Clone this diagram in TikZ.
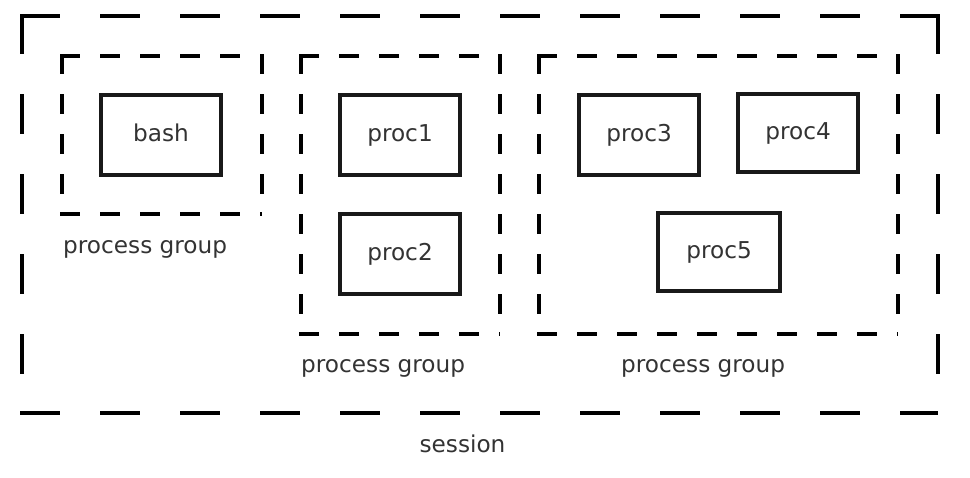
\documentclass[tikz,border=0pt]{standalone}
\usepackage{fontspec}
\setmainfont{DejaVu Sans}
\begin{document}
\begin{tikzpicture}[x=1pt,y=-1pt,
  lbl/.style={font=\fontsize{23.2}{28}\selectfont, text=black!80, inner sep=0pt},
  procbox/.style={lbl, draw=black!90, line width=3.4pt, minimum width=120pt,
    minimum height=80pt, text height=17pt, text depth=3pt},
  frame/.style={inner sep=0pt, outer sep=0pt},
  grpedge/.style={line width=3.3pt, dash pattern=on 20pt off 20pt, shorten <=-1.65pt},
  sessedge/.style={line width=3.4pt, dash pattern=on 40pt off 40pt, shorten <=-1.7pt}
]
\useasboundingbox (0,0) rectangle (970,478);

% outlines of the session and the three process groups (drawn edge by edge below)
\node[frame, minimum width=916pt, minimum height=397pt] (sess) at (480,214.5) {};
\node[frame, minimum width=200pt, minimum height=158pt] (g1) at (162,135) {};
\node[frame, minimum width=199pt, minimum height=278pt] (g2) at (400.5,195) {};
\node[frame, minimum width=359pt, minimum height=278pt] (g3) at (718.5,195) {};

\foreach \f/\s in {sess/sessedge, g1/grpedge, g2/grpedge, g3/grpedge}{
  \draw[\s] (\f.north west) -- (\f.north east);
  \draw[\s] (\f.south west) -- (\f.south east);
  \draw[\s] (\f.north west) -- (\f.south west);
  \draw[\s] (\f.north east) -- (\f.south east);
}

% processes
\node[procbox] (bash) at (161,135) {bash};
\node[procbox] (p1) at (400,135) {proc1};
\node[procbox] (p2) at (400,254) {proc2};
\node[procbox] (p3) at (639,135) {proc3};
\node[procbox, minimum height=78pt] (p4) at (798,133) {proc4};
\node[procbox, minimum width=122pt, minimum height=78pt] (p5) at (719,252) {proc5};

% captions
\node[lbl, anchor=base west] (l1) at (63,254) {process group};
\node[lbl, anchor=base west] (l2) at (301,373) {process group};
\node[lbl, anchor=base west] (l3) at (621,373) {process group};
\node[lbl, anchor=base] (ls) at (462.5,453) {session};
\end{tikzpicture}
\end{document}
